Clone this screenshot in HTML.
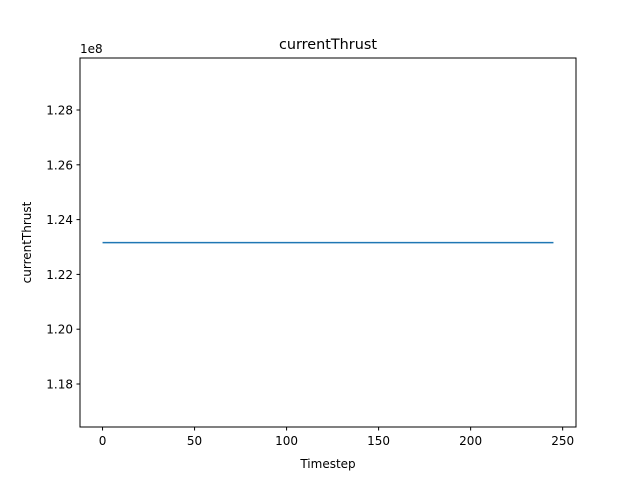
<!DOCTYPE html>
<html><head><meta charset="utf-8"><style>
html,body{margin:0;padding:0;background:#fff;}
svg text{font-family:"DejaVu Sans","Liberation Sans",sans-serif;fill:#000;}
</style></head><body>
<svg id="chart" width="640" height="480" xmlns="http://www.w3.org/2000/svg">
<rect width="640" height="480" fill="#fff"/>
<text x="328" y="49" font-size="14.4" text-anchor="middle">currentThrust</text>
<text x="328" y="468" font-size="12" text-anchor="middle">Timestep</text>
<text transform="translate(31,242.5) rotate(-90)" font-size="12" text-anchor="middle">currentThrust</text>
<text x="80" y="53" font-size="12">1e8</text>
<g id="ticks"></g>
<g id="series"></g>
<rect x="80" y="58" width="496" height="369" fill="none" stroke="#000" stroke-width="1"/>
</svg>
<script>
const timesteps = [0, 245];
const thrustValues = [123160000, 123160000];
const xTicks = [0, 50, 100, 150, 200, 250];
const yTicks = [1.18, 1.20, 1.22, 1.24, 1.26, 1.28];
const yTickLabels = ["1.18", "1.20", "1.22", "1.24", "1.26", "1.28"];

const L=80,R=576,T=58,B=427;
const xMin=-12.25,xMax=257.25,yMin=1.16431,yMax=1.29898;
const xs=v=>L+(v-xMin)/(xMax-xMin)*(R-L);
const ys=v=>B-(v-yMin)/(yMax-yMin)*(B-T);
const NS="http://www.w3.org/2000/svg";
const tg=document.getElementById('ticks');
xTicks.forEach(t=>{
  const x=xs(t);
  const l=document.createElementNS(NS,'line');
  l.setAttribute('x1',x);l.setAttribute('x2',x);l.setAttribute('y1',B);l.setAttribute('y2',B+3.5);l.setAttribute('stroke','#000');
  
  
  tg.appendChild(l);
  const tx=document.createElementNS(NS,'text');
  tx.setAttribute('x',x);tx.setAttribute('y',B+18);tx.setAttribute('font-size','12');tx.setAttribute('text-anchor','middle');
  tx.textContent=t;
  
  
  tg.appendChild(tx);
});
yTicks.forEach((t,i)=>{
  const y=ys(t);
  const l=document.createElementNS(NS,'line');
  l.setAttribute('x1',L-3.5);l.setAttribute('x2',L);l.setAttribute('y1',y);l.setAttribute('y2',y);l.setAttribute('stroke','#000');
  
  
  tg.appendChild(l);
  const tx=document.createElementNS(NS,'text');
  tx.setAttribute('x',L-7);tx.setAttribute('y',y+4.5);tx.setAttribute('font-size','12');tx.setAttribute('text-anchor','end');
  tx.textContent=yTickLabels[i];
  
  
  tg.appendChild(tx);
});
const p=document.createElementNS(NS,'polyline');
p.setAttribute('points',timesteps.map((t,i)=>xs(t)+','+ys(thrustValues[i]/1e8)).join(' '));
p.setAttribute('fill','none');p.setAttribute('stroke','#1f77b4');p.setAttribute('stroke-width','1.5');


document.getElementById('series').appendChild(p);
</script>
</body></html>
